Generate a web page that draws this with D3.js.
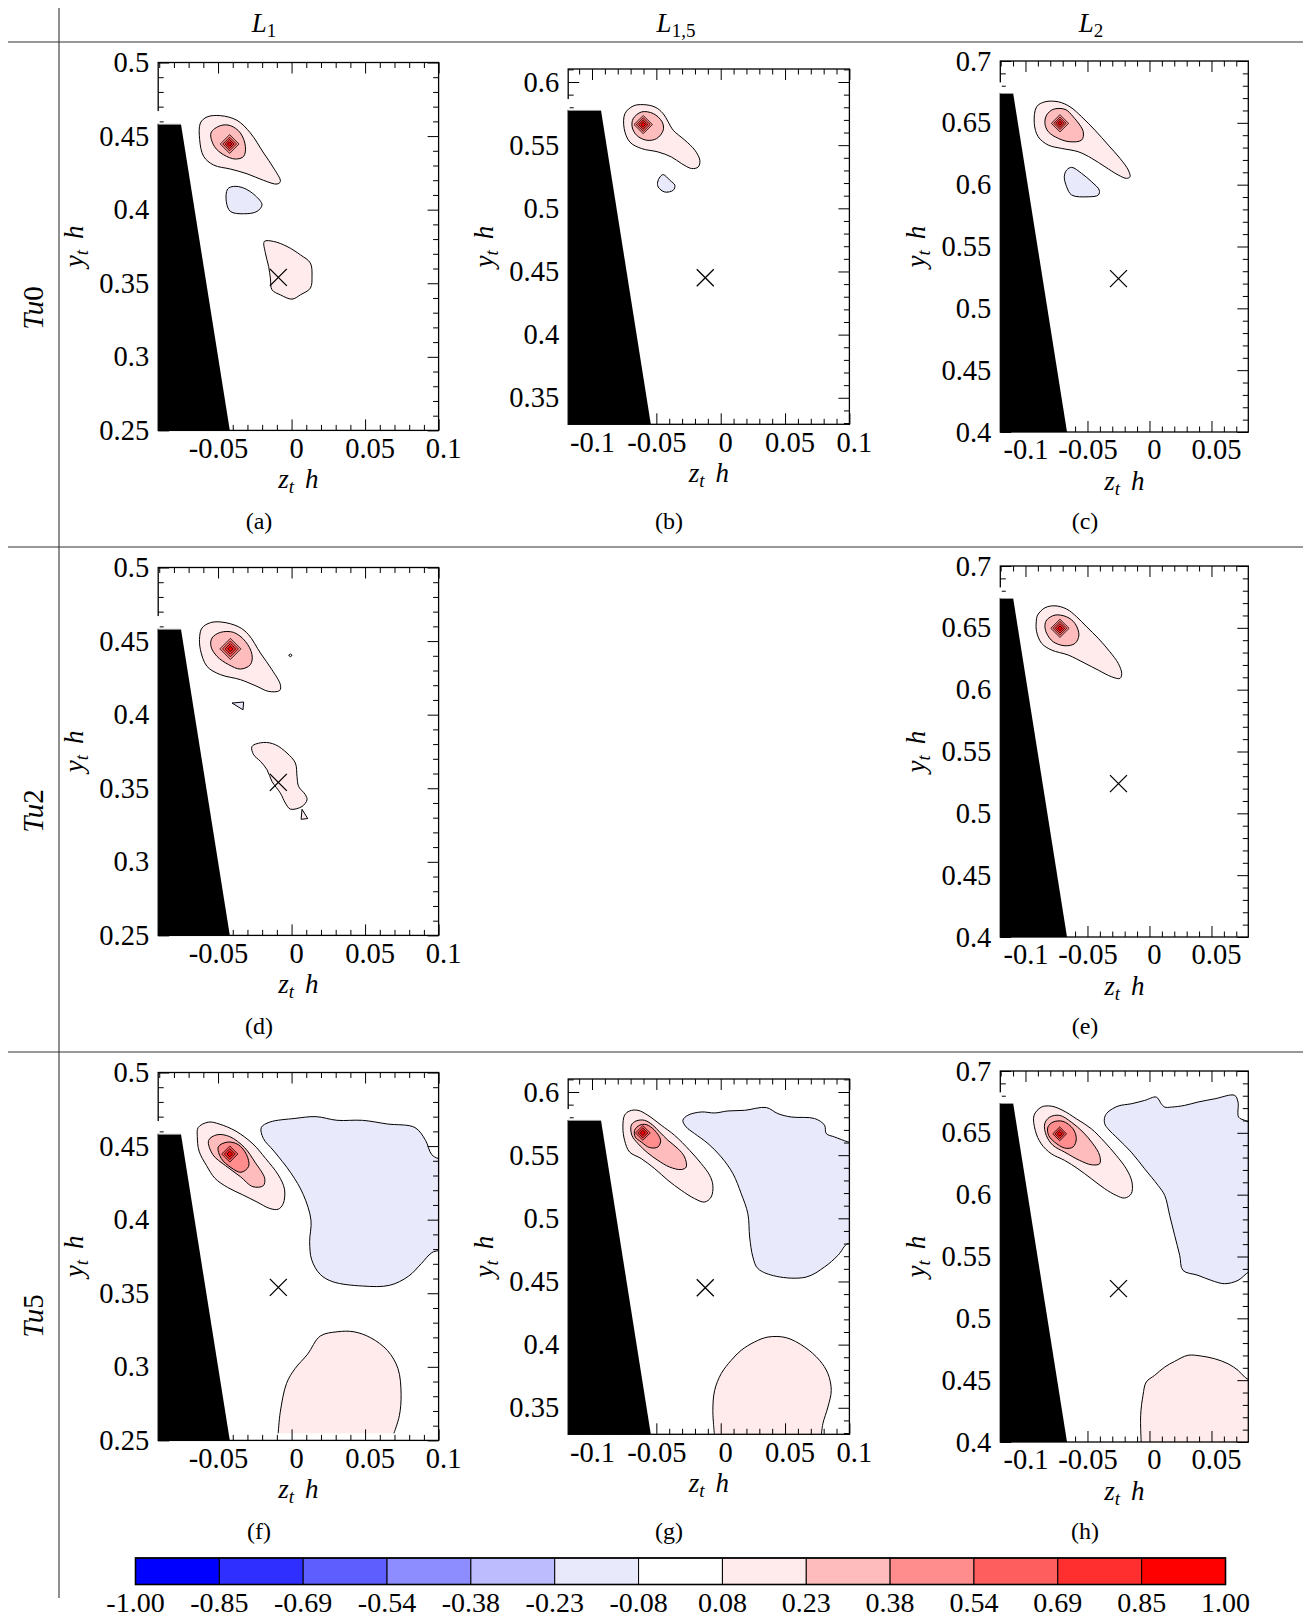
<!DOCTYPE html>
<html><head><meta charset="utf-8">
<script src="https://cdn.jsdelivr.net/npm/d3@7"></script>
<style>
body{margin:0;background:#fff}
svg{display:block}
text{font-family:"Liberation Serif","Times New Roman",serif;fill:#000}
</style>
</head><body>
<svg id="fig" width="1314" height="1618"></svg>
<script>
// ---------------- DATA ----------------
const levels = [-1.00,-0.85,-0.69,-0.54,-0.38,-0.23,-0.08,0.08,0.23,0.38,0.54,0.69,0.85,1.00];
const cellColors = ["#0000ff","#2f2fff","#5e5eff","#8d8dff","#bcbcff","#e9e9fc","#ffffff","#ffebeb","#ffbcbc","#ff8d8d","#ff5e5e","#ff2f2f","#ff0000"];

const colTitles = [["L","1"],["L","1,5"],["L","2"]];
const rowTitles = [["Tu","0"],["Tu","2"],["Tu","5"]];

const panelIds  = ["a","b","c","d","e","f","g","h"];
const panelRow  = [0,0,0,1,1,2,2,2];
const panelCol  = [0,1,2,0,2,0,1,2];

const zDomains = [[-0.0907,0.1],[-0.1185,0.1],[-0.1203,0.0797]];
const yDomains = [[0.25,0.5],[0.329,0.6103],[0.4,0.7]];
const zMajor = [[-0.05,0,0.05,0.1],[-0.1,-0.05,0,0.05,0.1],[-0.1,-0.05,0,0.05]];
const yMajor = [[0.25,0.3,0.35,0.4,0.45,0.5],[0.35,0.4,0.45,0.5,0.55,0.6],[0.4,0.45,0.5,0.55,0.6,0.65,0.7]];

// blade (black wedge) per column
const wedgeTopY = [0.458,0.5775,0.6737];
const wedgeTopZ = [-0.0752,-0.093,-0.1099];
const wedgeBotZ = [-0.042,-0.0543,-0.0665];

// vortex-centre cross per column
const crossZ = [-0.009,-0.012,-0.025];
const crossY = [0.354,0.445,0.524];

// contour polygons [z, y] per panel
const contoursA = [
 {lv:0.08, pts:[[-0.0620,0.4589],[-0.0575,0.4630],[-0.0484,0.4639],[-0.0371,0.4607],[-0.0280,0.4521],[-0.0190,0.4385],[-0.0122,0.4283],[-0.0076,0.4192],[-0.0099,0.4174],[-0.0190,0.4199],[-0.0303,0.4244],[-0.0416,0.4276],[-0.0530,0.4303],[-0.0598,0.4362],[-0.0625,0.4476]]},
 {lv:0.23, pts:[[-0.0548,0.4521],[-0.0484,0.4571],[-0.0416,0.4571],[-0.0348,0.4521],[-0.0314,0.4430],[-0.0326,0.4362],[-0.0382,0.4344],[-0.0462,0.4373],[-0.0525,0.4430]]},
 {lv:-0.08, pts:[[-0.0435,0.4140],[-0.0394,0.4158],[-0.0326,0.4147],[-0.0246,0.4095],[-0.0201,0.4033],[-0.0235,0.3988],[-0.0326,0.3972],[-0.0416,0.3988],[-0.0444,0.4056]]},
 {lv:0.08, pts:[[-0.0185,0.3784],[-0.0122,0.3784],[-0.0031,0.3750],[0.0060,0.3693],[0.0128,0.3637],[0.0139,0.3546],[0.0128,0.3467],[0.0060,0.3421],[0.0003,0.3392],[-0.0076,0.3421],[-0.0133,0.3455],[-0.0144,0.3535],[-0.0156,0.3614],[-0.0178,0.3705]]}
];
const contoursB = [
 {lv:0.08, pts:[[-0.0744,0.5750],[-0.0680,0.5810],[-0.0602,0.5821],[-0.0511,0.5802],[-0.0447,0.5750],[-0.0408,0.5684],[-0.0369,0.5618],[-0.0278,0.5539],[-0.0200,0.5459],[-0.0162,0.5380],[-0.0175,0.5327],[-0.0226,0.5315],[-0.0304,0.5354],[-0.0382,0.5406],[-0.0486,0.5446],[-0.0615,0.5473],[-0.0706,0.5525],[-0.0750,0.5631]]},
 {lv:0.23, pts:[[-0.0680,0.5710],[-0.0615,0.5763],[-0.0524,0.5750],[-0.0455,0.5684],[-0.0447,0.5618],[-0.0498,0.5552],[-0.0576,0.5539],[-0.0653,0.5578],[-0.0688,0.5644]]},
 {lv:-0.08, pts:[[-0.0472,0.5248],[-0.0447,0.5267],[-0.0395,0.5222],[-0.0356,0.5182],[-0.0369,0.5143],[-0.0434,0.5129],[-0.0486,0.5169],[-0.0490,0.5208]]}
];
const contoursC = [
 {lv:0.08, pts:[[-0.0910,0.6630],[-0.0843,0.6670],[-0.0735,0.6670],[-0.0641,0.6630],[-0.0547,0.6549],[-0.0440,0.6441],[-0.0332,0.6320],[-0.0238,0.6213],[-0.0171,0.6118],[-0.0157,0.6064],[-0.0184,0.6051],[-0.0252,0.6078],[-0.0359,0.6145],[-0.0466,0.6213],[-0.0574,0.6266],[-0.0708,0.6293],[-0.0816,0.6320],[-0.0897,0.6387],[-0.0929,0.6496]]},
 {lv:0.23, pts:[[-0.0829,0.6563],[-0.0776,0.6609],[-0.0681,0.6609],[-0.0615,0.6549],[-0.0534,0.6428],[-0.0547,0.6361],[-0.0641,0.6347],[-0.0735,0.6374],[-0.0816,0.6428],[-0.0843,0.6496]]},
 {lv:-0.08, pts:[[-0.0668,0.6118],[-0.0627,0.6140],[-0.0547,0.6091],[-0.0466,0.6023],[-0.0405,0.5956],[-0.0413,0.5916],[-0.0494,0.5902],[-0.0627,0.5916],[-0.0668,0.5983],[-0.0687,0.6064]]}
];
const contoursD = [
 {lv:0.08, pts:[[-0.0609,0.4589],[-0.0552,0.4625],[-0.0473,0.4629],[-0.0360,0.4597],[-0.0292,0.4543],[-0.0212,0.4419],[-0.0133,0.4305],[-0.0076,0.4203],[-0.0081,0.4164],[-0.0156,0.4158],[-0.0235,0.4192],[-0.0348,0.4238],[-0.0484,0.4272],[-0.0575,0.4328],[-0.0620,0.4442],[-0.0625,0.4532]]},
 {lv:0.23, pts:[[-0.0541,0.4521],[-0.0484,0.4559],[-0.0394,0.4559],[-0.0314,0.4498],[-0.0269,0.4408],[-0.0280,0.4340],[-0.0348,0.4310],[-0.0428,0.4340],[-0.0507,0.4396],[-0.0548,0.4464]]},
 {lv:0.08, lin:true, pts:[[-0.0020,0.4403],[-0.0008,0.4412],[0.0004,0.4403],[-0.0008,0.4394]]},
 {lv:-0.08, lin:true, pts:[[-0.0405,0.4079],[-0.0326,0.4086],[-0.0330,0.4033]]},
 {lv:0.08, pts:[[-0.0269,0.3784],[-0.0190,0.3811],[-0.0110,0.3796],[-0.0031,0.3739],[0.0026,0.3671],[0.0037,0.3580],[0.0048,0.3512],[0.0094,0.3456],[0.0105,0.3421],[0.0071,0.3376],[-0.0008,0.3358],[-0.0042,0.3399],[-0.0076,0.3467],[-0.0133,0.3546],[-0.0167,0.3626],[-0.0212,0.3683],[-0.0258,0.3728]]},
 {lv:0.08, lin:true, pts:[[0.0071,0.3357],[0.0110,0.3294],[0.0065,0.3289]]}
];
const contoursE = [
 {lv:0.08, pts:[[-0.0902,0.6603],[-0.0843,0.6662],[-0.0762,0.6678],[-0.0668,0.6652],[-0.0587,0.6589],[-0.0506,0.6508],[-0.0413,0.6415],[-0.0319,0.6306],[-0.0252,0.6213],[-0.0224,0.6132],[-0.0238,0.6091],[-0.0305,0.6104],[-0.0413,0.6158],[-0.0520,0.6213],[-0.0655,0.6280],[-0.0789,0.6320],[-0.0869,0.6374],[-0.0910,0.6468],[-0.0913,0.6549]]},
 {lv:0.23, pts:[[-0.0829,0.6563],[-0.0762,0.6603],[-0.0668,0.6589],[-0.0601,0.6536],[-0.0569,0.6441],[-0.0601,0.6374],[-0.0681,0.6355],[-0.0776,0.6387],[-0.0829,0.6455],[-0.0843,0.6517]]}
];
const contoursF = [
 {lv:0.08, pts:[[-0.0635,0.4626],[-0.0564,0.4663],[-0.0492,0.4650],[-0.0378,0.4601],[-0.0263,0.4515],[-0.0177,0.4416],[-0.0091,0.4305],[-0.0048,0.4207],[-0.0057,0.4108],[-0.0091,0.4071],[-0.0148,0.4076],[-0.0235,0.4120],[-0.0335,0.4170],[-0.0435,0.4219],[-0.0521,0.4281],[-0.0578,0.4367],[-0.0629,0.4466],[-0.0641,0.4564]]},
 {lv:0.23, pts:[[-0.0564,0.4539],[-0.0506,0.4577],[-0.0420,0.4564],[-0.0320,0.4490],[-0.0249,0.4391],[-0.0183,0.4281],[-0.0192,0.4231],[-0.0263,0.4224],[-0.0349,0.4293],[-0.0449,0.4367],[-0.0535,0.4441]]},
 {lv:0.38, pts:[[-0.0498,0.4495],[-0.0435,0.4527],[-0.0363,0.4510],[-0.0306,0.4441],[-0.0292,0.4362],[-0.0344,0.4322],[-0.0412,0.4354],[-0.0478,0.4416]]},
 {lv:-0.08, pts:[[-0.0206,0.4626],[-0.0148,0.4663],[0.0023,0.4688],[0.0167,0.4700],[0.0310,0.4675],[0.0482,0.4675],[0.0653,0.4650],[0.0839,0.4626],[0.0911,0.4539],[0.0954,0.4441],[0.1040,0.4380],[0.1040,0.3812],[0.0954,0.3776],[0.0882,0.3701],[0.0796,0.3616],[0.0667,0.3554],[0.0482,0.3549],[0.0281,0.3578],[0.0195,0.3628],[0.0137,0.3727],[0.0123,0.3850],[0.0132,0.3997],[0.0080,0.4170],[-0.0005,0.4318],[-0.0120,0.4466],[-0.0192,0.4552]]},
 {lv:0.08, open:true, pts:[[-0.0091,0.2548],[-0.0077,0.2691],[-0.0034,0.2888],[0.0023,0.2987],[0.0109,0.3086],[0.0195,0.3209],[0.0310,0.3238],[0.0424,0.3238],[0.0539,0.3197],[0.0653,0.3110],[0.0724,0.2987],[0.0745,0.2814],[0.0733,0.2667],[0.0696,0.2548]]}
];
const contoursG = [
 {lv:0.08, pts:[[-0.0747,0.5816],[-0.0708,0.5850],[-0.0643,0.5855],[-0.0566,0.5816],[-0.0462,0.5737],[-0.0358,0.5657],[-0.0242,0.5539],[-0.0151,0.5433],[-0.0086,0.5341],[-0.0061,0.5262],[-0.0074,0.5169],[-0.0125,0.5129],[-0.0203,0.5156],[-0.0307,0.5222],[-0.0410,0.5301],[-0.0514,0.5394],[-0.0618,0.5473],[-0.0708,0.5525],[-0.0747,0.5618],[-0.0760,0.5723]]},
 {lv:0.23, pts:[[-0.0695,0.5737],[-0.0657,0.5771],[-0.0591,0.5776],[-0.0527,0.5737],[-0.0475,0.5684],[-0.0410,0.5618],[-0.0333,0.5552],[-0.0281,0.5486],[-0.0268,0.5406],[-0.0307,0.5386],[-0.0397,0.5406],[-0.0488,0.5459],[-0.0566,0.5517],[-0.0643,0.5592],[-0.0690,0.5657]]},
 {lv:0.38, pts:[[-0.0669,0.5697],[-0.0630,0.5737],[-0.0579,0.5742],[-0.0514,0.5697],[-0.0467,0.5618],[-0.0488,0.5565],[-0.0552,0.5560],[-0.0618,0.5605],[-0.0664,0.5644]]},
 {lv:-0.08, pts:[[-0.0294,0.5776],[-0.0255,0.5816],[-0.0151,0.5842],[-0.0047,0.5834],[0.0056,0.5850],[0.0186,0.5855],[0.0354,0.5877],[0.0444,0.5829],[0.0548,0.5802],[0.0730,0.5790],[0.0807,0.5737],[0.0820,0.5671],[0.0885,0.5644],[0.0988,0.5605],[0.1040,0.5590],[0.1040,0.4780],[0.0988,0.4800],[0.0911,0.4707],[0.0807,0.4615],[0.0664,0.4535],[0.0431,0.4541],[0.0289,0.4602],[0.0250,0.4694],[0.0225,0.4852],[0.0211,0.5037],[0.0159,0.5196],[0.0095,0.5354],[0.0004,0.5486],[-0.0099,0.5592],[-0.0203,0.5671],[-0.0268,0.5723]]},
 {lv:0.08, open:true, pts:[[-0.0047,0.3270],[-0.0061,0.3480],[-0.0047,0.3638],[0.0004,0.3771],[0.0082,0.3876],[0.0159,0.3955],[0.0263,0.4021],[0.0367,0.4060],[0.0509,0.4055],[0.0652,0.3981],[0.0768,0.3876],[0.0833,0.3771],[0.0859,0.3638],[0.0833,0.3506],[0.0794,0.3374],[0.0781,0.3270]]}
];
const contoursH = [
 {lv:0.08, pts:[[-0.0931,0.6641],[-0.0872,0.6708],[-0.0792,0.6716],[-0.0698,0.6681],[-0.0590,0.6614],[-0.0469,0.6533],[-0.0361,0.6425],[-0.0268,0.6318],[-0.0187,0.6209],[-0.0141,0.6102],[-0.0147,0.6007],[-0.0200,0.5973],[-0.0268,0.5994],[-0.0361,0.6048],[-0.0469,0.6129],[-0.0577,0.6209],[-0.0684,0.6277],[-0.0792,0.6331],[-0.0873,0.6411],[-0.0921,0.6520]]},
 {lv:0.23, pts:[[-0.0845,0.6573],[-0.0805,0.6627],[-0.0724,0.6641],[-0.0631,0.6587],[-0.0536,0.6506],[-0.0456,0.6411],[-0.0402,0.6318],[-0.0402,0.6250],[-0.0469,0.6242],[-0.0563,0.6277],[-0.0684,0.6344],[-0.0778,0.6399],[-0.0832,0.6479]]},
 {lv:0.38, pts:[[-0.0819,0.6547],[-0.0778,0.6587],[-0.0698,0.6593],[-0.0617,0.6533],[-0.0590,0.6452],[-0.0617,0.6385],[-0.0684,0.6377],[-0.0765,0.6425],[-0.0813,0.6479]]},
 {lv:-0.08, pts:[[-0.0361,0.6627],[-0.0335,0.6668],[-0.0254,0.6716],[-0.0147,0.6735],[-0.0039,0.6762],[0.0055,0.6789],[0.0095,0.6735],[0.0123,0.6708],[0.0176,0.6708],[0.0284,0.6722],[0.0391,0.6749],[0.0526,0.6775],[0.0687,0.6803],[0.0714,0.6749],[0.0719,0.6627],[0.0768,0.6601],[0.0800,0.6587],[0.0840,0.6580],[0.0840,0.5380],[0.0800,0.5374],[0.0714,0.5307],[0.0606,0.5280],[0.0498,0.5307],[0.0391,0.5348],[0.0270,0.5388],[0.0244,0.5509],[0.0203,0.5671],[0.0163,0.5833],[0.0123,0.5994],[0.0069,0.6075],[-0.0039,0.6209],[-0.0147,0.6344],[-0.0254,0.6452],[-0.0335,0.6533],[-0.0361,0.6573]]},
 {lv:0.08, open:true, pts:[[-0.0066,0.3980],[-0.0071,0.4216],[-0.0052,0.4378],[-0.0026,0.4485],[0.0042,0.4539],[0.0123,0.4606],[0.0203,0.4652],[0.0310,0.4701],[0.0418,0.4695],[0.0526,0.4673],[0.0633,0.4633],[0.0714,0.4580],[0.0768,0.4525],[0.0840,0.4480]], close:[[0.0840,0.3980]]}
];
const panelContours = [contoursA,contoursB,contoursC,contoursD,contoursE,contoursF,contoursG,contoursH];

// vortex core: nested diamond-like contours
const peakZ = [-0.0421,-0.0602,-0.0722,-0.0416,-0.0722,-0.0420,-0.0605,-0.0724];
const peakY = [0.4446,0.5663,0.6496,0.4447,0.6496,0.4446,0.5676,0.6492];
const peakLevels = [[0.38,0.54,0.69,0.85],[0.38,0.54,0.69,0.85],[0.38,0.54,0.69,0.85],[0.38,0.54,0.69,0.85],[0.38,0.54,0.69,0.85],[0.54,0.69,0.85],[0.54,0.69,0.85],[0.54,0.69,0.85]];
const peakRadii = [[0.0064,0.0046,0.0030,0.0015],[0.0072,0.0054,0.0036,0.0018],[0.0070,0.0050,0.0033,0.0016],[0.0072,0.0054,0.0036,0.0018],[0.0074,0.0056,0.0038,0.0019],[0.0055,0.0037,0.0019],[0.0058,0.0039,0.0020],[0.0056,0.0038,0.0019]];

// ---------------- DRAW ----------------
const svg = d3.select("#fig");
const FONT = '"Liberation Serif","Times New Roman",serif';

function fillColor(lv){
  const k = levels.findIndex(l => Math.abs(l-lv) < 1e-9);
  return lv > 0 ? cellColors[k] : cellColors[k-1];
}

// table separators
const sep = svg.append("g").attr("stroke","#333").attr("stroke-width",1.1);
sep.append("line").attr("x1",59).attr("x2",59).attr("y1",8).attr("y2",1598);
[42,547,1052].forEach(v => sep.append("line").attr("x1",8).attr("x2",1303).attr("y1",v).attr("y2",v));

// column headers
const colHeaderX = [264,676,1091];
colTitles.forEach((t,i)=>{
  const tx = svg.append("text").attr("x",colHeaderX[i]).attr("y",32).attr("text-anchor","middle").attr("font-size",27);
  tx.append("tspan").attr("font-style","italic").text(t[0]);
  tx.append("tspan").attr("font-size",19).attr("dy",5).text(t[1]);
});
// row headers
const rowHeaderY = [308,811,1316];
rowTitles.forEach((t,i)=>{
  const tx = svg.append("text").attr("transform",`translate(43,${rowHeaderY[i]}) rotate(-90)`).attr("text-anchor","middle").attr("font-size",29);
  tx.append("tspan").attr("font-style","italic").text(t[0]);
  tx.append("tspan").text(t[1]);
});

const colBoxX = [[158.2,438.6],[568.2,849.4],[1000.3,1248.3]];
const colBoxY = [[62.5,430.4],[69,424.3],[61,432]];
const rowOff = [0,505,1010];
const captionX = [259,669,1085];

const fmtTick = d => (Math.abs(d) < 1e-12 ? "0" : String(+d.toFixed(3)));

panelIds.forEach((id,i)=>{
  const r = panelRow[i], c = panelCol[i];
  const [x0,x1] = colBoxX[c];
  const y0 = colBoxY[c][0] + rowOff[r], y1 = colBoxY[c][1] + rowOff[r];
  const x = d3.scaleLinear().domain(zDomains[c]).range([x0,x1]);
  const y = d3.scaleLinear().domain(yDomains[c]).range([y1,y0]);

  const clipId = "clip-"+id;
  svg.append("clipPath").attr("id",clipId).append("rect")
    .attr("x",x0).attr("y",y0).attr("width",x1-x0).attr("height",y1-y0);
  const g = svg.append("g");
  const body = g.append("g").attr("clip-path",`url(#${clipId})`);

  const smoothClosed = d3.line().x(d=>x(d[0])).y(d=>y(d[1])).curve(d3.curveCatmullRomClosed.alpha(0.5));
  const linClosed = d3.line().x(d=>x(d[0])).y(d=>y(d[1])).curve(d3.curveLinearClosed);
  const smoothOpen = d3.line().x(d=>x(d[0])).y(d=>y(d[1])).curve(d3.curveCatmullRom.alpha(0.5));

  panelContours[i].forEach(ct=>{
    const col = fillColor(ct.lv);
    if (ct.open) {
      let dFill = smoothOpen(ct.pts);
      (ct.close||[]).forEach(p => { dFill += `L${x(p[0])},${y(p[1])}`; });
      dFill += "Z";
      body.append("path").attr("d",dFill).attr("fill",col).attr("stroke","none");
      body.append("path").attr("d",smoothOpen(ct.pts)).attr("fill","none").attr("stroke","#000").attr("stroke-width",1);
    } else {
      const gen = ct.lin ? linClosed : smoothClosed;
      body.append("path").attr("d",gen(ct.pts)).attr("fill",col).attr("stroke","#000").attr("stroke-width",1);
    }
  });

  // core nested contours
  peakLevels[i].forEach((lv,k)=>{
    const rr = peakRadii[i][k], zc = peakZ[i], yc = peakY[i];
    const pts = [[zc-rr,yc],[zc,yc+rr],[zc+rr,yc],[zc,yc-rr]];
    body.append("path").attr("d",linClosed(pts)).attr("fill",fillColor(lv)).attr("stroke","#000").attr("stroke-width",0.75);
  });

  // cross
  const cx = x(crossZ[c]), cy = y(crossY[c]), s = 8.5;
  body.append("path").attr("d",`M${cx-s},${cy-s}L${cx+s},${cy+s}M${cx-s},${cy+s}L${cx+s},${cy-s}`)
    .attr("stroke","#000").attr("stroke-width",1.3).attr("fill","none");

  // wedge (blade)
  const yb = yDomains[c][0], yt = wedgeTopY[c];
  const zAt = yy => wedgeBotZ[c] + (yy - yb) * (wedgeTopZ[c] - wedgeBotZ[c]) / (yt - yb);
  const zl = zDomains[c][0] - 0.01, ylow = yb - 0.01;
  const wedgePts = [[zl,yt],[wedgeTopZ[c],yt],[zAt(ylow),ylow],[zl,ylow]];

  // axes: major + minor ticks, all four sides, inward
  const zMin = d3.range(Math.ceil(zDomains[c][0]*100-1e-9), Math.floor(zDomains[c][1]*100+1e-9)+1).map(k=>k/100)
    .filter(v => !zMajor[c].some(m=>Math.abs(m-v)<1e-9));
  const yMin = d3.range(Math.ceil(yDomains[c][0]*100-1e-9), Math.floor(yDomains[c][1]*100+1e-9)+1).map(k=>k/100)
    .filter(v => !yMajor[c].some(m=>Math.abs(m-v)<1e-9));

  const axG = g.append("g");
  function addAxis(axis, tx, ty, labels){
    const a = axG.append("g").attr("transform",`translate(${tx},${ty})`).call(axis);
    a.select(".domain").remove();
    a.selectAll("line").attr("stroke","#000").attr("stroke-width",1);
    a.attr("font-family",FONT).attr("font-size",28.5);
    if(!labels) a.selectAll("text").remove();
    return a;
  }
  const bottom = addAxis(d3.axisBottom(x).tickValues(zMajor[c]).tickSize(-11).tickPadding(7).tickFormat(fmtTick), 0, y1, true);
  bottom.selectAll("text").attr("dx", d => d >= 0 ? 4.5 : 0);
  addAxis(d3.axisBottom(x).tickValues(zMin).tickSize(-5.5).tickFormat(""), 0, y1, false);
  addAxis(d3.axisTop(x).tickValues(zMajor[c]).tickSize(-11).tickFormat(""), 0, y0, false);
  addAxis(d3.axisTop(x).tickValues(zMin).tickSize(-5.5).tickFormat(""), 0, y0, false);
  addAxis(d3.axisLeft(y).tickValues(yMajor[c]).tickSize(-11).tickPadding(9).tickFormat(fmtTick), x0, 0, true);
  addAxis(d3.axisLeft(y).tickValues(yMin).tickSize(-5.5).tickFormat(""), x0, 0, false);
  addAxis(d3.axisRight(y).tickValues(yMajor[c]).tickSize(-11).tickFormat(""), x1, 0, false);
  addAxis(d3.axisRight(y).tickValues(yMin).tickSize(-5.5).tickFormat(""), x1, 0, false);

  // blade over ticks
  g.append("path").attr("clip-path",`url(#${clipId})`).attr("d",linClosed(wedgePts)).attr("fill","#000");

  // frame
  g.append("rect").attr("x",x0).attr("y",y0).attr("width",x1-x0).attr("height",y1-y0)
    .attr("fill","none").attr("stroke","#000").attr("stroke-width",1.3);
  // small break of left spine above blade
  g.append("line").attr("x1",x0).attr("x2",x0).attr("y1",y(yt)-0.5).attr("y2",y(yt+0.009))
    .attr("stroke","#fff").attr("stroke-width",3);
  g.append("line").attr("x1",x0).attr("x2",x(wedgeTopZ[c])).attr("y1",y(yt)).attr("y2",y(yt))
    .attr("stroke","#999").attr("stroke-width",1);

  // axis labels
  const xl = g.append("text").attr("x",(x0+x1)/2).attr("y",y1+57.5).attr("text-anchor","middle").attr("font-size",27);
  xl.append("tspan").attr("font-style","italic").text("z");
  xl.append("tspan").attr("font-style","italic").attr("font-size",19).attr("dy",5).text("t");
  xl.append("tspan").attr("font-style","italic").attr("dy",-5).attr("dx",11).text("h");
  const yl = g.append("text").attr("transform",`translate(${x0-75},${(y0+y1)/2}) rotate(-90)`).attr("text-anchor","middle").attr("font-size",27);
  yl.append("tspan").attr("font-style","italic").text("y");
  yl.append("tspan").attr("font-style","italic").attr("font-size",19).attr("dy",5).text("t");
  yl.append("tspan").attr("font-style","italic").attr("dy",-5).attr("dx",11).text("h");

  // caption
  g.append("text").attr("x",captionX[c]).attr("y",529+rowOff[r]).attr("text-anchor","middle").attr("font-size",24).text(`(${id})`);
});

// colour bar
const cb = svg.append("g");
const cbx = d3.scaleLinear().domain([0,levels.length-1]).range([135.5,1225.5]);
cb.selectAll("rect.cell").data(cellColors).join("rect").attr("class","cell")
  .attr("x",(d,k)=>cbx(k)).attr("y",1558).attr("width",(d,k)=>cbx(k+1)-cbx(k)).attr("height",26.5)
  .attr("fill",d=>d).attr("stroke","#000").attr("stroke-width",1);
cb.append("rect").attr("x",cbx(0)).attr("y",1558).attr("width",cbx(levels.length-1)-cbx(0)).attr("height",26.5)
  .attr("fill","none").attr("stroke","#000").attr("stroke-width",1.6);
cb.selectAll("text.lab").data(levels).join("text").attr("class","lab")
  .attr("x",(d,k)=>cbx(k)).attr("y",1612).attr("text-anchor","middle").attr("font-size",28)
  .text(d=>d.toFixed(2));
</script>
</body></html>
